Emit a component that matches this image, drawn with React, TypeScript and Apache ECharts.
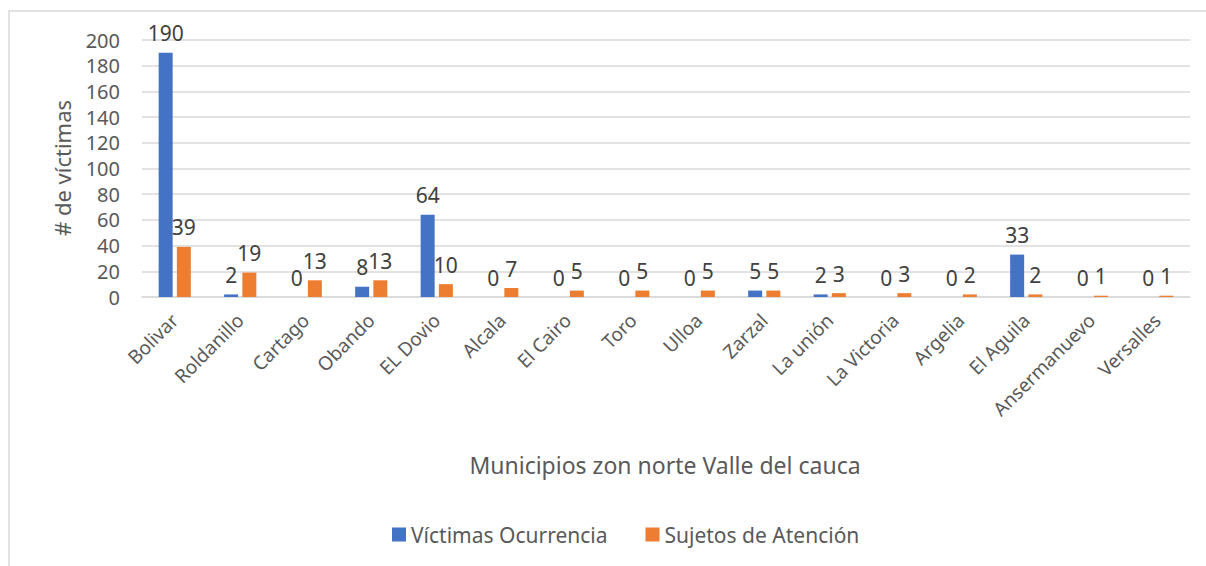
import React, { useEffect, useRef } from "react";
import * as echarts from "echarts";

const categories = ["Bolivar", "Roldanillo", "Cartago", "Obando", "EL Dovio", "Alcala", "El Cairo", "Toro", "Ulloa", "Zarzal", "La unión", "La Victoria", "Argelia", "El Aguila", "Ansermanuevo", "Versalles"];
const victimasOcurrencia = [190, 2, 0, 8, 64, 0, 0, 0, 0, 5, 2, 0, 0, 33, 0, 0];
const sujetosAtencion = [39, 19, 13, 13, 10, 7, 5, 5, 5, 5, 3, 3, 2, 2, 1, 1];
const seriesNames = ["Víctimas Ocurrencia", "Sujetos de Atención"];
const xAxisTitle = "Municipios zon norte Valle del cauca";
const yAxisTitle = "# de víctimas";

const FONT = "'Noto Sans', 'Open Sans', sans-serif";

export default function App() {
  const ref = useRef<HTMLDivElement>(null);
  useEffect(() => {
    if (!ref.current) return;
    const chart = echarts.init(ref.current, null, { renderer: "svg" });
    const label = {
      show: true,
      position: "top",
      distance: 9,
      color: "#404040",
      fontSize: 21,
      fontFamily: FONT,
    };
    chart.setOption({
      animation: false,
      backgroundColor: "#ffffff",
      textStyle: { fontFamily: FONT },
      grid: { left: 142, right: 16, top: 40, bottom: 269, containLabel: false },
      legend: {
        data: seriesNames,
        top: 519,
        left: 387,
        itemWidth: 14,
        itemHeight: 14,
        itemGap: 38,
        icon: "rect",
        textStyle: { fontSize: 21, color: "#595959", fontFamily: FONT },
      },
      xAxis: {
        type: "category",
        data: categories,
        axisLine: { lineStyle: { color: "#d9d9d9", width: 1.5 } },
        axisTick: { show: false },
        axisLabel: { rotate: 45, fontSize: 19, color: "#595959", margin: 20, interval: 0, fontFamily: FONT },
      },
      yAxis: {
        type: "value",
        min: 0,
        max: 200,
        interval: 20,
        axisLine: { show: false },
        axisTick: { show: false },
        splitLine: { lineStyle: { color: "#d9d9d9", width: 1.5 } },
        axisLabel: { fontSize: 20, color: "#595959", margin: 22, fontFamily: FONT },
      },
      graphic: [
        {
          type: "rect",
          shape: { x: 9, y: 11, width: 1250, height: 600 },
          style: { fill: "none", stroke: "#d9d9d9", lineWidth: 1.5 },
          silent: true,
          z: -10,
        },
        {
          type: "text",
          x: 665,
          y: 465,
          style: { text: xAxisTitle, fontSize: 23, fill: "#595959", align: "center", verticalAlign: "middle", fontFamily: FONT },
        },
        {
          type: "text",
          x: 62,
          y: 168,
          rotation: Math.PI / 2,
          style: { text: yAxisTitle, fontSize: 22, fill: "#595959", align: "center", verticalAlign: "middle", fontFamily: FONT },
        },
      ],
      series: [
        {
          name: seriesNames[0],
          type: "bar",
          data: victimasOcurrencia,
          barWidth: 14,
          barGap: "30%",
          itemStyle: { color: "#4472c4" },
          label,
        },
        {
          name: seriesNames[1],
          type: "bar",
          data: sujetosAtencion,
          barWidth: 14,
          itemStyle: { color: "#ed7d31" },
          label,
        },
      ],
    });
    return () => chart.dispose();
  }, []);
  return <div ref={ref} style={{ position: "absolute", left: 0, top: 0, width: 1206, height: 566 }} />;
}
